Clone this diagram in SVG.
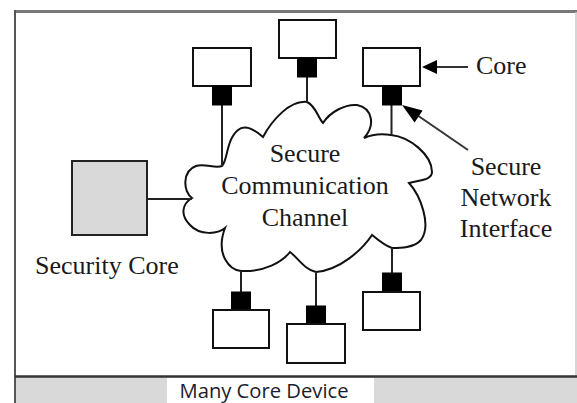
<svg xmlns="http://www.w3.org/2000/svg" width="577" height="403" viewBox="0 0 577 403">
  <style>
    .core { fill: #ffffff; stroke: #111; stroke-width: 2; }
    .ni { fill: #000; stroke: #000; stroke-width: 1; }
    .link { stroke: #222; stroke-width: 2; fill: none; }
    .lbl { font-family: "Liberation Serif", "Times New Roman", serif; font-size: 26px; fill: #1a1a1a; }
    .mid { text-anchor: middle; }
  </style>

  <!-- device frame -->
  <g id="frame">
    <rect x="0" y="0" width="577" height="403" fill="#ffffff"/>
    <rect x="15" y="377" width="562" height="26" fill="#d9d9d9"/>
    <rect x="167" y="378" width="207" height="25" fill="#ffffff"/>
    <line x1="15" y1="11.5" x2="577" y2="11.5" stroke="#777" stroke-width="3"/>
    <line x1="15" y1="10" x2="15" y2="403" stroke="#555" stroke-width="2"/>
    <line x1="576" y1="12" x2="576" y2="376" stroke="#c8c8c8" stroke-width="1.5"/>
    <line x1="15" y1="376.5" x2="577" y2="376.5" stroke="#333" stroke-width="2.5"/>
    <text x="264" y="397.5" text-anchor="middle" font-family="'Open Sans', 'DejaVu Sans', sans-serif" font-size="20" fill="#1c1c2a" textLength="169" lengthAdjust="spacingAndGlyphs">Many Core Device</text>
  </g>

  <!-- shared communication medium -->
  <g id="channel">
    <path d="M192,198
             C183,192 182,171 196,166
             C205,163 215,169 222,166
             C228,160 226,140 238,130
             C245,124 255,130 263,137
             C272,120 290,100 307,102
             C316,106 318,118 323,123
             C330,112 345,104 357,105
             C372,108 376,125 364,138
             C375,133 385,134 391,135
             C410,137 432,155 432,172
             C432,180 420,180 409,183
             C420,195 432,225 421,240
             C414,248 400,248 392,248
             C385,246 378,240 372,235
             C362,250 340,270 316,272
             C305,270 298,258 290,252
             C282,262 265,272 241,271
             C230,270 215,255 225,228
             C218,234 200,236 190,225
             C180,215 182,204 192,198 Z"
          fill="#ffffff" stroke="#111" stroke-width="2"/>
    <text class="lbl mid" x="305" y="162">Secure</text>
    <text class="lbl mid" x="305" y="194">Communication</text>
    <text class="lbl mid" x="305" y="226">Channel</text>
  </g>

  <!-- links and pointers -->
  <g id="connectors">
    <line class="link" x1="222" y1="105" x2="222" y2="166"/>
    <line class="link" x1="307" y1="77" x2="307" y2="102"/>
    <line class="link" x1="391.5" y1="105" x2="391.5" y2="135"/>
    <line class="link" x1="392" y1="248" x2="392" y2="273"/>
    <line class="link" x1="316" y1="272" x2="316" y2="306"/>
    <line class="link" x1="241" y1="271" x2="241" y2="292"/>
    <line class="link" x1="147" y1="199" x2="192" y2="199"/>
    <line x1="468" y1="67" x2="436" y2="67" stroke="#333" stroke-width="2"/>
    <polygon points="422,67 437,60 437,74" fill="#000"/>
    <line x1="468" y1="150" x2="417" y2="115" stroke="#333" stroke-width="2"/>
    <polygon points="402,105 414.6,122.5 422.6,110.6" fill="#000"/>
  </g>

  <g id="security-core">
    <rect x="72" y="161" width="75" height="74" fill="#d9d9d9" stroke="#222" stroke-width="2"/>
    <text class="lbl" x="35" y="274">Security Core</text>
  </g>

  <g id="core-top-left">
    <rect class="core" x="193" y="48" width="58" height="38"/>
    <rect class="ni" x="212.5" y="86" width="19" height="19"/>
  </g>

  <g id="core-top-middle">
    <rect class="core" x="279" y="20" width="57" height="38"/>
    <rect class="ni" x="297.5" y="58" width="19" height="19"/>
  </g>

  <g id="core-top-right">
    <rect class="core" x="363" y="48" width="57" height="38"/>
    <rect class="ni" x="382.5" y="86" width="19" height="19"/>
    <text class="lbl" x="476" y="74">Core</text>
  </g>

  <g id="network-interface-label">
    <text class="lbl mid" x="506" y="175">Secure</text>
    <text class="lbl mid" x="506" y="206">Network</text>
    <text class="lbl mid" x="506" y="237">Interface</text>
  </g>

  <g id="core-bottom-left">
    <rect class="ni" x="231.5" y="292" width="19" height="18"/>
    <rect class="core" x="213" y="310" width="56" height="38"/>
  </g>

  <g id="core-bottom-middle">
    <rect class="ni" x="306.5" y="306" width="19" height="18"/>
    <rect class="core" x="287" y="324" width="58" height="39"/>
  </g>

  <g id="core-bottom-right">
    <rect class="ni" x="382.5" y="273" width="19" height="19"/>
    <rect class="core" x="363" y="292" width="57" height="38"/>
  </g>
</svg>
